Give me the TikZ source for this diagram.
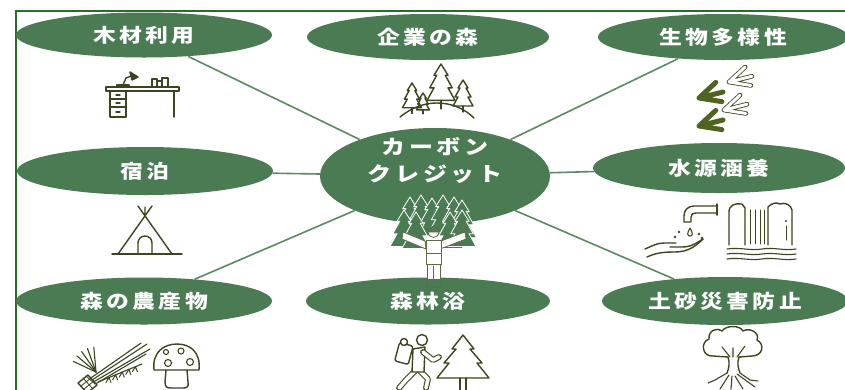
\documentclass[tikz,border=0pt]{standalone}
\usepackage{fontspec}
\usepackage{graphicx}
\usetikzlibrary{shapes.geometric}
\newfontfamily\jp{Noto Sans CJK JP}[LetterSpace=15]
\definecolor{leaf}{HTML}{4B7B53}
\definecolor{frame}{RGB}{38,112,38}
\definecolor{ink}{HTML}{3B4520}
\definecolor{moss}{HTML}{4E6420}
\newcommand{\wide}[1]{\scalebox{1.2}[1]{#1}}

\begin{document}
\begin{tikzpicture}
    [x=1pt, y=-1pt,
     bubble/.style={ellipse, fill=leaf, text=white, inner sep=0pt,
        font=\jp\bfseries\fontsize{19}{22}\selectfont},
     link/.style={draw=leaf!90!white, line width=1.6pt},
     icon/.style={draw=ink, line width=1.4pt, line join=round, line cap=round},
     limb/.style={draw=ink, line width=1.1pt, double=white, double distance=3.6pt, line cap=round, line join=round},
     conifer/.pic={
        \path[pic actions] (0,0) -- (-5,8) -- (-3,8) -- (-8,17) -- (-5,17) -- (-10,26)
            -- (10,26) -- (5,17) -- (8,17) -- (3,8) -- (5,8) -- cycle;
        \path[pic actions] (0,26) -- (0,32);},
     print/.pic={
        \path[pic actions, line cap=round, line join=round]
            (0,0) -- (14,-13) (0,0) -- (20,-5) (0,0) -- (19,3);}]
    \useasboundingbox (0,0) rectangle (845,389);
    \fill[white] (0,0) rectangle (845,389);
    \draw[frame, line width=1.6pt] (16,395) -- (16,11) -- (850,11);

    % the hub and its eight topics
    \node[bubble, minimum width=230pt, minimum height=96pt] (carbon) at (435,176) {};
    \node[text=white, align=center, font=\jp\bfseries\fontsize{20}{27}\selectfont]
        (carbonlbl) at (435,161) {\wide{カーボン}\\\wide{クレジット}};

    \node[bubble, minimum width=256pt, minimum height=45pt] (wood) at (144,35) {\wide{木材利用}};
    \node[bubble, minimum width=242pt, minimum height=46pt] (corpforest) at (428,37) {\wide{企業の森}};
    \node[bubble, minimum width=250pt, minimum height=46pt] (biodiv) at (723,37) {\wide{生物多様性}};
    \node[bubble, minimum width=256pt, minimum height=48pt] (lodging) at (145,171) {\wide{宿泊}};
    \node[bubble, minimum width=252pt, minimum height=50pt] (water) at (719,168) {\wide{水源涵養}};
    \node[bubble, minimum width=256pt, minimum height=47pt] (produce) at (144,301) {\wide{森の農産物}};
    \node[bubble, minimum width=244pt, minimum height=47pt] (bathing) at (428,301) {\wide{森林浴}};
    \node[bubble, minimum width=246pt, minimum height=48pt] (sediment) at (725,301) {\wide{土砂災害防止}};

    \draw[link] (carbon) -- (wood);
    \draw[link] (carbon) -- (biodiv);
    \draw[link] (carbon) -- (lodging);
    \draw[link] (carbon) -- (water);
    \draw[link] (carbon) -- (produce);
    \draw[link] (carbon) -- (sediment);

    % person in front of the grove
    \foreach \px/\py in {410/197, 421/195, 432/198, 443/195, 454/197, 462/200}
        \pic[fill=leaf, draw=white, line width=0.8pt, scale=1.45] at (\px,\py) {conifer};
    \foreach \px/\py in {404/210, 416/212, 450/212, 462/210}
        \pic[fill=leaf, draw=white, line width=0.8pt, scale=1.4] at (\px,\py) {conifer};
    \draw[fill=white, draw=ink!80, line width=0.8pt] (425,241) -- (403,232) -- (402,239) -- (426,249) -- cycle;
    \draw[fill=white, draw=ink!80, line width=0.8pt] (441,241) -- (465,232) -- (466,239) -- (440,249) -- cycle;
    \draw[fill=white, draw=ink!80, line width=0.8pt] (426,240) rectangle (441,264);
    \draw[fill=white, draw=ink!80, line width=0.8pt] (427,264) rectangle (440,279);
    \draw[draw=ink!80, line width=0.8pt] (433.5,266) -- (433.5,279) (426,253) -- (441,253);
    \draw[fill=leaf, draw=ink!80, line width=0.8pt] (426,279) rectangle (441,287);
    \draw[fill=white, draw=ink!80, line width=0.8pt] (433.5,232) circle (5.5);
    \draw[fill=leaf, draw=ink!80, line width=0.8pt] (428,232) arc[start angle=180, end angle=360, radius=5.5] -- cycle;

    % desk with lamp and books
    \draw[icon] (106,87) rectangle (179,91);
    \draw[icon] (110,91) rectangle (126,117);
    \draw[icon] (110,99) -- (126,99) (110,107) -- (126,107);
    \draw[icon] (116,95) -- (120,95) (116,103) -- (120,103) (116,112) -- (120,112);
    \draw[icon] (174,91) -- (174,117);
    \draw[icon] (117,87) -- (117,85) -- (129,85) -- (129,87);
    \draw[icon] (123,85) -- (126,78) -- (131,76);
    \draw[icon, fill=ink] (130,72) -- (138,77) -- (132,80) -- cycle;
    \draw[icon, line width=1.1pt] (152,87) rectangle (157,79) (157,87) rectangle (162,81) (162,87) rectangle (168,78);

    % trees on a hill
    \pic[icon, scale=1.4] at (441,64) {conifer};
    \pic[icon, scale=0.95] at (412,83) {conifer};
    \pic[icon, scale=0.65] at (423,93) {conifer};
    \pic[icon, scale=1.0] at (463,80) {conifer};
    \draw[icon] (400,117) .. controls (415,105) and (428,103) .. (437,103) .. controls (452,103) and (465,109) .. (474,118);

    % footprints
    \pic[draw=moss, line width=5pt, scale=1.2] at (699,98) {print};
    \pic[draw=moss, line width=5pt, scale=1.2] at (699,126) {print};
    \pic[draw=ink, line width=0.8pt, double=white, double distance=3pt, scale=1.15] at (729,82) {print};
    \pic[draw=ink, line width=0.8pt, double=white, double distance=3pt, scale=1.15] at (724,110) {print};

    % tent
    \draw[icon] (138,206) -- (172,254) (152,206) -- (118,254) (145,207) -- (145,216);
    \draw[icon] (112,254) -- (182,254);
    \draw[icon] (138,254) -- (138,243) .. controls (138,239) and (141,236) .. (145,236)
        .. controls (149,236) and (152,239) .. (152,243) -- (152,254);

    % tap, hand and waterfall
    \draw[icon] (717,206) -- (694,206) .. controls (688,206) and (684,210) .. (684,216) -- (684,222)
        -- (691,222) -- (691,217) .. controls (691,214) and (693,213) .. (696,213) -- (717,213);
    \draw[icon] (717,204) -- (717,215);
    \draw[icon, line width=1.1pt] (690,228) .. controls (687,233) and (687,236) .. (690,236)
        .. controls (693,236) and (693,233) .. (690,228);
    \fill[ink] (679,232) circle (1.4) (675,237) circle (1.4) (699,234) circle (1.4) (702,238) circle (1.4);
    \draw[icon] (645,249) .. controls (652,246) and (657,243) .. (664,243) -- (676,243);
    \draw[icon] (670,247) -- (682,247) .. controls (692,247) and (698,242) .. (703,239);
    \draw[icon] (647,257) .. controls (656,253) and (662,252) .. (675,252)
        .. controls (688,252) and (696,246) .. (703,239);
    \draw[icon] (729,245) -- (729,212) .. controls (729,205) and (735,203) .. (742,204) -- (745,208) -- (745,245);
    \draw[icon] (768,245) -- (768,207) .. controls (772,203) and (776,202) .. (780,204)
        .. controls (785,202) and (791,205) .. (792,210) -- (792,245);
    \foreach \wx in {750,755,760,764}
        \draw[icon, line width=0.9pt] (\wx,210) -- (\wx,244);
    \draw[icon, line width=1pt] (786,226) -- (786,240);
    \fill[ink] (786,221) circle (1.1);
    \foreach \wy in {249,254,259}
        \draw[icon, line width=1.1pt] (727,\wy) .. controls (740,\wy-2) and (750,\wy+2) .. (762,\wy)
            .. controls (774,\wy-2) and (784,\wy+2) .. (796,\wy);

    % pine sprig, rice ear and mushroom
    \draw[icon, line width=1.1pt] (86,384) -- (147,344) (90,384) -- (150,349) (88,380) -- (141,343) (92,386) -- (146,354);
    \foreach \a in {-95,-110,-125,-140,-155}
        \draw[icon, line width=1.1pt] (96,372) -- ++(\a:25);
    \draw[icon, fill=white] (78,383) -- (88,375) -- (97,385) -- (87,393) -- cycle;
    \draw[icon, line width=0.8pt] (81,386) -- (91,378) (84,389) -- (94,381) (83,378) -- (92,388) (86,376) -- (95,384);
    \draw[icon, line width=1.1pt] (98,382) -- (142,364);
    \foreach \sx/\sy in {109/377.5, 115.6/374.8, 122.2/372.1, 128.8/369.4, 135.4/366.7}
        \draw[icon, line width=1pt] (\sx,\sy) -- ++(-3,5) (\sx,\sy) -- ++(2,5);
    \draw[icon] (154,370) .. controls (152,352) and (164,344) .. (177,344)
        .. controls (190,344) and (201,352) .. (199,370) -- cycle;
    \draw[icon, line width=1.1pt] (166,352) circle (2.5) (181,351) circle (3) (168,363) circle (3.5) (190,362) circle (3.5);
    \draw[icon] (166,370) -- (165,382) .. controls (165,387) and (167,388) .. (171,388) -- (183,388)
        .. controls (187,388) and (189,387) .. (188,382) -- (187,370);

    % hiker and fir
    \draw[icon, fill=white, rounded corners=2pt, rotate around={-15:(404,353)}] (397,344) rectangle (411,363);
    \draw[icon, fill=white] (404,342) circle (3.5);
    \draw[limb] (415,371) -- (406,380) -- (399,388);
    \draw[limb] (420,371) -- (428,379) -- (426,388);
    \draw[icon, fill=white] (413,349) -- (425,347) -- (424,372) -- (412,372) -- cycle;
    \draw[limb] (423,352) -- (433,360) -- (439,357);
    \draw[icon, fill=white] (422,340) circle (5.5);
    \draw[icon] (463,335) -- (452,349) -- (456,349) -- (444,363) -- (449,363) -- (437,378)
        -- (489,378) -- (477,363) -- (482,363) -- (470,349) -- (474,349) -- cycle;
    \draw[icon] (460,378) -- (460,390) (466,378) -- (466,390);

    % tree holding the soil with its roots
    \draw[icon] (728,357) -- (713,356) .. controls (702,357) and (700,342) .. (709,339)
        .. controls (708,330) and (718,327) .. (722,331) .. controls (726,325) and (740,325) .. (743,331)
        .. controls (750,327) and (760,333) .. (757,340) .. controls (765,344) and (763,356) .. (752,356) -- (739,357);
    \draw[icon] (728,357) .. controls (730,363) and (729,368) .. (727,373)
        (739,357) .. controls (737,363) and (738,368) .. (740,373);
    \draw[icon, line width=1.1pt] (730,357) -- (722,347) (737,357) -- (745,346) (733,357) -- (733,348);
    \draw[icon, line width=1.1pt] (727,373) -- (715,380) -- (708,383) (729,375) -- (720,389)
        (732,376) -- (731,389) (735,376) -- (743,389) (740,373) -- (750,380) -- (758,381) (737,374) -- (755,387);
\end{tikzpicture}
\end{document}
